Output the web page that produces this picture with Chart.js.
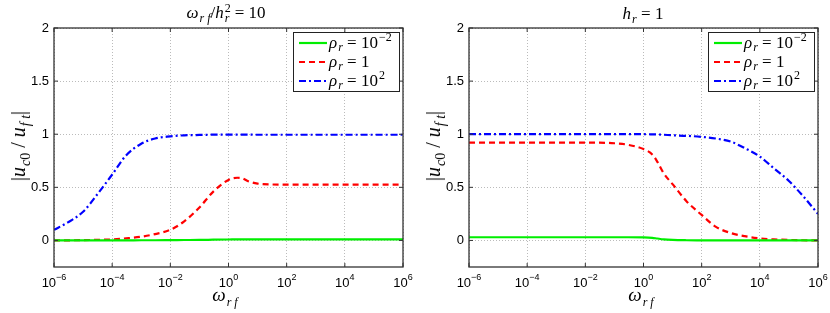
<!DOCTYPE html>
<html>
<head>
<meta charset="utf-8">
<script src="https://cdn.jsdelivr.net/npm/chart.js@4.4.0/dist/chart.umd.min.js"></script>
<style>
  body { margin: 0; background: #fff; }
  #wrap { position: relative; width: 830px; height: 313px; overflow: hidden; background: #fff; }
  canvas { position: absolute; top: 0; }
  .lbl { position: absolute; font-family: 'Liberation Serif', serif; font-size: 17px; color: #000; white-space: nowrap; transform: translate(-50%, -50%); line-height: 1; }
  .lbl i { font-style: italic; }
  .lbl sub, .lbl sup { font-size: 12px; line-height: 0; margin-left: 1px; }
  .ss { display: inline-block; vertical-align: middle; font-size: 12px; line-height: 10px; text-align: left; margin: -3px 4px 0 1px; }
  .ylab { transform: translate(-50%, -50%) rotate(-90deg); font-size: 20px; }
  .ylab sub { font-size: 14px; }
</style>
</head>
<body>
<div id="wrap">
  <canvas id="c1" width="415" height="313" style="left:0"></canvas>
  <canvas id="c2" width="415" height="313" style="left:415px"></canvas>

  <div class="lbl" style="left:226px;top:13px"><i>ω</i><sub><i>r f</i></sub>/<i>h</i><span class="ss">2<br><i>r</i></span>= 10</div>
  <div class="lbl" style="left:643px;top:13px"><i>h</i><sub><i>r</i></sub> = 1</div>

  <div class="lbl ylab" style="left:18px;top:146px">|<i>u</i><sub><i>c</i>0</sub> / <i>u</i><sub><i>f t</i></sub>|</div>
  <div class="lbl ylab" style="left:433px;top:146px">|<i>u</i><sub><i>c</i>0</sub> / <i>u</i><sub><i>f t</i></sub>|</div>

  <div class="lbl" style="left:225px;top:294px;font-size:19px"><i>ω</i><sub><i>r f</i></sub></div>
  <div class="lbl" style="left:641px;top:294px;font-size:19px"><i>ω</i><sub><i>r f</i></sub></div>
</div>
<script>
// Data
const xVals = [1e-6, 3e-6, 1e-5, 3e-5, 1e-4, 3e-4, 1e-3, 3e-3, 1e-2, 3e-2, 1e-1, 3e-1,
               1, 2, 3, 5, 10, 30, 100, 300, 1e3, 3e3, 1e4, 3e4, 1e5, 3e5, 1e6];

const leftGreen = [0, 0, 0, 0, 0.001, 0.001, 0.002, 0.002, 0.003, 0.004, 0.005, 0.007,
                   0.009, 0.01, 0.011, 0.011, 0.011, 0.011, 0.011, 0.011, 0.011, 0.011, 0.011, 0.011, 0.011, 0.011, 0.011];
const leftRed   = [0, 0.001, 0.003, 0.006, 0.01, 0.02, 0.035, 0.06, 0.10, 0.18, 0.31, 0.46,
                   0.57, 0.59, 0.585, 0.555, 0.535, 0.527, 0.525, 0.525, 0.525, 0.525, 0.525, 0.525, 0.525, 0.525, 0.525];
const leftBlue  = [0.10, 0.17, 0.27, 0.43, 0.62, 0.80, 0.91, 0.96, 0.98, 0.99, 0.993, 0.996,
                   0.997, 0.997, 0.997, 0.996, 0.995, 0.995, 0.995, 0.995, 0.995, 0.995, 0.995, 0.995, 0.995, 0.995, 0.995];

const rightGreen = [0.03, 0.03, 0.03, 0.03, 0.03, 0.03, 0.03, 0.03, 0.03, 0.03, 0.03, 0.03,
                    0.029, 0.025, 0.018, 0.01, 0.005, 0.002, 0.001, 0, 0, 0, 0, 0, 0, 0, 0];
const rightRed   = [0.92, 0.92, 0.92, 0.92, 0.92, 0.92, 0.92, 0.92, 0.92, 0.92, 0.915, 0.90,
                    0.86, 0.81, 0.74, 0.63, 0.53, 0.37, 0.24, 0.13, 0.07, 0.04, 0.02, 0.01, 0.005, 0.002, 0];
const rightBlue  = [1, 1, 1, 1, 1, 1, 1, 1, 1, 1, 1, 1,
                    1, 0.999, 0.998, 0.995, 0.99, 0.985, 0.975, 0.96, 0.93, 0.87, 0.79, 0.68, 0.56, 0.42, 0.25];

const xTicks = [1e-6, 1e-4, 1e-2, 1, 1e2, 1e4, 1e6];
const xExps  = ['\u22126', '\u22124', '\u22122', '0', '2', '4', '6'];
const yTicks = [0, 0.5, 1, 1.5, 2];
const yLabels = ['0', '0.5', '1', '1.5', '2'];

const legendLabels = [
  [{ t: 'ρ', it: 1 }, { t: 'r', it: 1, sub: 1 }, { t: ' = 10' }, { t: '\u22122', sup: 1 }],
  [{ t: 'ρ', it: 1 }, { t: 'r', it: 1, sub: 1 }, { t: ' = 1' }],
  [{ t: 'ρ', it: 1 }, { t: 'r', it: 1, sub: 1 }, { t: ' = 10' }, { t: '2', sup: 1 }]
];

// Helpers
function drawRich(ctx, segs, x, y) {
  ctx.textBaseline = 'alphabetic';
  ctx.textAlign = 'left';
  segs.forEach(s => {
    const size = (s.sub || s.sup) ? 12 : 17;
    ctx.font = (s.it ? 'italic ' : '') + size + 'px "Liberation Serif"';
    const dy = s.sub ? 3 : (s.sup ? -7 : 0);
    ctx.fillText(s.t, x + (s.sub || s.sup ? 1 : 0), y + dy);
    x += ctx.measureText(s.t).width + (s.sub || s.sup ? 1 : 0);
  });
}

const framePlugin = {
  id: 'frame',
  afterDraw(chart) {
    const ctx = chart.ctx, a = chart.chartArea;
    const xs = chart.scales.x, ys = chart.scales.y;
    ctx.save();
    // box
    ctx.strokeStyle = '#333';
    ctx.lineWidth = 1.3;
    ctx.strokeRect(a.left, a.top, a.right - a.left, a.bottom - a.top);
    // inward ticks
    ctx.lineWidth = 1;
    ctx.beginPath();
    xTicks.forEach(v => {
      const px = xs.getPixelForValue(v);
      ctx.moveTo(px, a.bottom); ctx.lineTo(px, a.bottom - 4);
      ctx.moveTo(px, a.top); ctx.lineTo(px, a.top + 4);
    });
    yTicks.forEach(v => {
      const py = ys.getPixelForValue(v);
      ctx.moveTo(a.left, py); ctx.lineTo(a.left + 4, py);
      ctx.moveTo(a.right, py); ctx.lineTo(a.right - 4, py);
    });
    ctx.stroke();
    // tick labels
    ctx.fillStyle = '#000';
    ctx.font = '13px "Liberation Sans"';
    ctx.textAlign = 'right';
    ctx.textBaseline = 'middle';
    yTicks.forEach((v, i) => ctx.fillText(yLabels[i], a.left - 5, ys.getPixelForValue(v)));
    xTicks.forEach((v, i) => {
      const px = xs.getPixelForValue(v);
      ctx.font = '13px "Liberation Sans"';
      const w1 = ctx.measureText('10').width;
      ctx.font = '9px "Liberation Sans"';
      const w2 = ctx.measureText(xExps[i]).width;
      let x0 = px - (w1 + w2) / 2;
      ctx.textAlign = 'left';
      ctx.textBaseline = 'alphabetic';
      ctx.font = '13px "Liberation Sans"';
      ctx.fillText('10', x0, a.bottom + 20);
      ctx.font = '9px "Liberation Sans"';
      ctx.fillText(xExps[i], x0 + w1, a.bottom + 13);
    });
    // legend
    const bx = a.right - 110, by = a.top + 4, bw = 106, bh = 59;
    ctx.fillStyle = '#fff';
    ctx.fillRect(bx, by, bw, bh);
    ctx.strokeStyle = '#222';
    ctx.lineWidth = 1;
    ctx.strokeRect(bx + 0.5, by + 0.5, bw, bh);
    chart.data.datasets.forEach((ds, i) => {
      const ry = by + 11 + i * 19;
      ctx.strokeStyle = ds.borderColor;
      ctx.lineWidth = ds.borderWidth;
      ctx.setLineDash(ds.borderDash || []);
      ctx.beginPath();
      ctx.moveTo(bx + 6, ry); ctx.lineTo(bx + 34, ry);
      ctx.stroke();
      ctx.setLineDash([]);
      ctx.fillStyle = '#000';
      drawRich(ctx, legendLabels[i], bx + 36, ry + 5);
    });
    ctx.restore();
  }
};

function makeChart(id, green, red, blue) {
  const pts = arr => arr.map((v, i) => ({ x: xVals[i], y: v }));
  return new Chart(document.getElementById(id), {
    type: 'line',
    data: {
      datasets: [
        { data: pts(green), borderColor: '#00ee00', borderWidth: 2.2, borderDash: [] },
        { data: pts(red),   borderColor: '#ff0000', borderWidth: 2.2, borderDash: [6, 4] },
        { data: pts(blue),  borderColor: '#0000ff', borderWidth: 2.2, borderDash: [7, 3, 2, 3] }
      ]
    },
    options: {
      responsive: false,
      animation: false,
      events: [],
      layout: { padding: { left: 0, top: 28, right: 12, bottom: 0 } },
      elements: { point: { radius: 0 }, line: { cubicInterpolationMode: 'monotone', fill: false } },
      plugins: { legend: { display: false }, tooltip: { enabled: false } },
      scales: {
        x: {
          type: 'logarithmic', min: 1e-6, max: 1e6,
          afterBuildTicks: s => { s.ticks = xTicks.map(v => ({ value: v })); },
          afterFit: s => { s.height = 46; },
          ticks: { display: false },
          grid: { color: '#bbbbbb', lineWidth: 1, drawTicks: false },
          border: { display: false, dash: [1, 2] }
        },
        y: {
          min: -0.25, max: 2,
          afterBuildTicks: s => { s.ticks = yTicks.map(v => ({ value: v })); },
          afterFit: s => { s.width = 54; },
          ticks: { display: false },
          grid: { color: '#bbbbbb', lineWidth: 1, drawTicks: false },
          border: { display: false, dash: [1, 2] }
        }
      }
    },
    plugins: [framePlugin]
  });
}

makeChart('c1', leftGreen, leftRed, leftBlue);
makeChart('c2', rightGreen, rightRed, rightBlue);
</script>
</body>
</html>
